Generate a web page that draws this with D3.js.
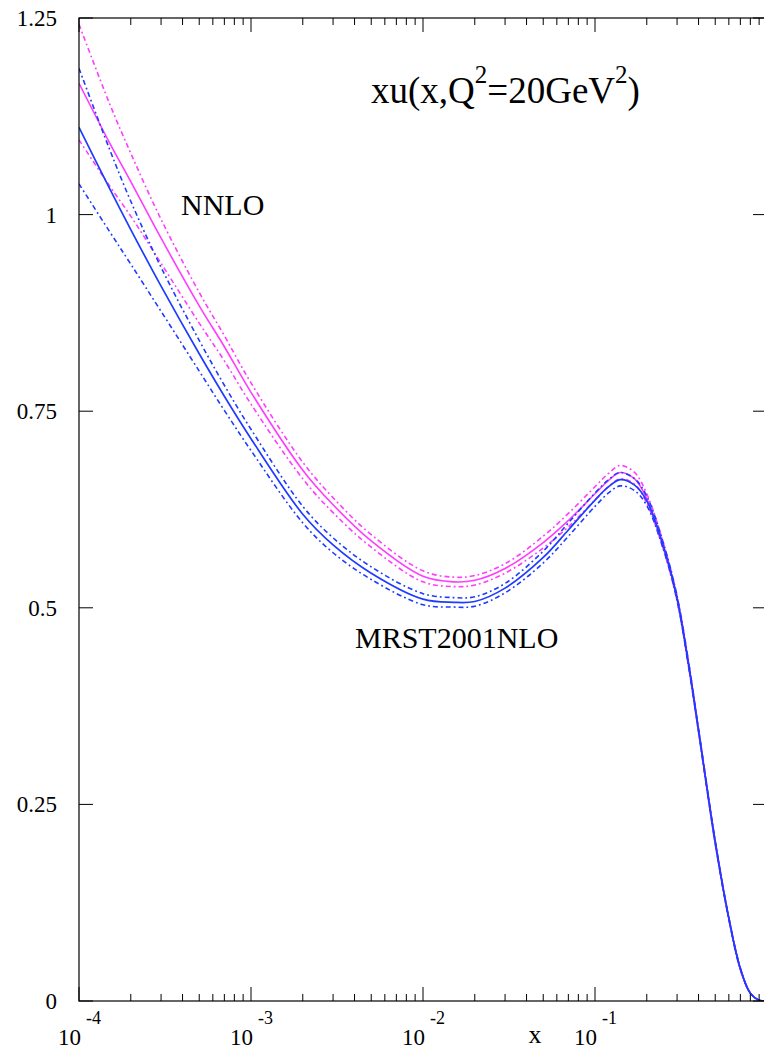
<!DOCTYPE html>
<html>
<head>
<meta charset="utf-8">
<script src="https://cdn.jsdelivr.net/npm/d3@7"></script>
<style>
  html, body { margin: 0; padding: 0; background: #fff; }
  svg { display: block; }
  text { font-family: "Liberation Serif", "Times New Roman", serif; fill: #000; }
</style>
</head>
<body>
<svg id="chart" width="764" height="1050"></svg>
<script>
// x grid shared by all curves
const xGrid = [1e-4, 1.5e-4, 2e-4, 3e-4, 5e-4, 7e-4, 1e-3, 2e-3, 3e-3, 5e-3,
  1e-2, 1.5e-2, 2e-2, 3e-2, 5e-2, 7e-2, 0.1, 0.12, 0.14, 0.17, 0.2, 0.25,
  0.3, 0.35, 0.4, 0.5, 0.6, 0.7, 0.8, 0.9, 1.0];

// NNLO: central value and error-band edges
const nnloCentral = [1.167, 1.092, 1.042, 0.970, 0.884, 0.832, 0.774, 0.675, 0.631, 0.585,
  0.540, 0.533, 0.535, 0.550, 0.583, 0.611, 0.645, 0.662, 0.672, 0.664, 0.639, 0.578,
  0.512, 0.428, 0.344, 0.202, 0.105, 0.041, 0.010, 0.001, 0.0];
const nnloUpper = [1.242, 1.142, 1.078, 0.994, 0.901, 0.846, 0.786, 0.685, 0.640, 0.593,
  0.547, 0.539, 0.541, 0.556, 0.591, 0.620, 0.654, 0.671, 0.681, 0.672, 0.645, 0.582,
  0.515, 0.431, 0.346, 0.204, 0.106, 0.042, 0.010, 0.001, 0.0];
const nnloLower = [1.095, 1.037, 0.998, 0.938, 0.862, 0.814, 0.759, 0.664, 0.621, 0.577,
  0.533, 0.527, 0.529, 0.544, 0.576, 0.603, 0.637, 0.654, 0.664, 0.657, 0.633, 0.574,
  0.509, 0.425, 0.342, 0.200, 0.104, 0.040, 0.010, 0.001, 0.0];

// MRST2001 NLO: central value and error-band edges
const nloCentral = [1.111, 1.034, 0.981, 0.909, 0.823, 0.769, 0.715, 0.619, 0.580, 0.544,
  0.511, 0.507, 0.508, 0.525, 0.564, 0.599, 0.637, 0.654, 0.663, 0.656, 0.636, 0.578,
  0.512, 0.428, 0.344, 0.202, 0.105, 0.041, 0.010, 0.001, 0.0];
const nloUpper = [1.186, 1.084, 1.017, 0.933, 0.840, 0.783, 0.727, 0.629, 0.589, 0.552,
  0.518, 0.513, 0.514, 0.531, 0.572, 0.608, 0.646, 0.663, 0.672, 0.664, 0.642, 0.582,
  0.515, 0.431, 0.346, 0.204, 0.106, 0.042, 0.010, 0.001, 0.0];
const nloLower = [1.039, 0.979, 0.937, 0.877, 0.801, 0.751, 0.700, 0.608, 0.570, 0.536,
  0.504, 0.501, 0.502, 0.519, 0.557, 0.591, 0.629, 0.646, 0.655, 0.649, 0.630, 0.574,
  0.509, 0.425, 0.342, 0.200, 0.104, 0.040, 0.010, 0.001, 0.0];

// axis ticks and labels
const yTickValues = [0, 0.25, 0.5, 0.75, 1, 1.25];
const yTickLabels = ["0", "0.25", "0.5", "0.75", "1", "1.25"];
const xDecades = [1e-4, 1e-3, 1e-2, 1e-1];
const xDecadeExponents = ["-4", "-3", "-2", "-1"];

const MAGENTA = "#ff3cff";
const BLUE = "#1e3cff";

const svg = d3.select("#chart");
const plotLeft = 79, plotRight = 767, plotTop = 18, plotBottom = 1001;

const x = d3.scaleLog().domain([1e-4, 1]).range([plotLeft, plotRight]);
const y = d3.scaleLinear().domain([0, 1.25]).range([plotBottom, plotTop]);

svg.append("defs").append("clipPath").attr("id", "plotClip")
  .append("rect").attr("x", plotLeft).attr("y", plotTop)
  .attr("width", plotRight - plotLeft).attr("height", plotBottom - plotTop);

// curves
const line = d3.line()
  .x((d, i) => x(xGrid[i]))
  .y(d => y(d))
  .curve(d3.curveCatmullRom.alpha(0.5));

const DASHDOT = "5,3,1.8,3";
const curves = [
  { values: nnloUpper, color: MAGENTA, dash: DASHDOT, w: 1.6 },
  { values: nnloLower, color: MAGENTA, dash: DASHDOT, w: 1.6 },
  { values: nnloCentral, color: MAGENTA, dash: null, w: 1.6 },
  { values: nloUpper, color: BLUE, dash: DASHDOT, w: 1.6 },
  { values: nloLower, color: BLUE, dash: DASHDOT, w: 1.6 },
  { values: nloCentral, color: BLUE, dash: null, w: 1.7 }
];

const plot = svg.append("g").attr("clip-path", "url(#plotClip)");
curves.forEach(c => {
  plot.append("path")
    .attr("d", line(c.values))
    .attr("fill", "none")
    .attr("stroke", c.color)
    .attr("stroke-width", c.w)
    .attr("stroke-dasharray", c.dash);
});

// frame
svg.append("rect").attr("x", plotLeft).attr("y", plotTop)
  .attr("width", plotRight - plotLeft).attr("height", plotBottom - plotTop)
  .attr("fill", "none").attr("stroke", "#000").attr("stroke-width", 1.2);

// x ticks (bottom and top, inward)
const minorTicks = [];
xDecades.forEach(d => { for (let k = 2; k <= 9; k++) minorTicks.push(d * k); });
const tickG = svg.append("g").attr("stroke", "#000").attr("stroke-width", 1);
xDecades.concat([1]).forEach(v => {
  tickG.append("line").attr("x1", x(v)).attr("x2", x(v)).attr("y1", plotBottom).attr("y2", plotBottom - 14);
  tickG.append("line").attr("x1", x(v)).attr("x2", x(v)).attr("y1", plotTop).attr("y2", plotTop + 14);
});
minorTicks.forEach(v => {
  tickG.append("line").attr("x1", x(v)).attr("x2", x(v)).attr("y1", plotBottom).attr("y2", plotBottom - 7);
  tickG.append("line").attr("x1", x(v)).attr("x2", x(v)).attr("y1", plotTop).attr("y2", plotTop + 7);
});
// y ticks (left and right, inward)
yTickValues.forEach(v => {
  tickG.append("line").attr("x1", plotLeft).attr("x2", plotLeft + 14).attr("y1", y(v)).attr("y2", y(v));
  tickG.append("line").attr("x1", plotRight).attr("x2", plotRight - 14).attr("y1", y(v)).attr("y2", y(v));
});

// y tick labels
svg.append("g").selectAll("text").data(yTickValues).join("text")
  .attr("x", 57).attr("y", d => y(d) + 8)
  .attr("text-anchor", "end")
  .attr("font-size", 23)
  .text((d, i) => yTickLabels[i]);

// x tick labels: 10 with exponent
const xl = svg.append("g");
xDecades.forEach((v, i) => {
  xl.append("text").attr("x", x(v) + 2).attr("y", 1045)
    .attr("text-anchor", "end").attr("font-size", 23).text("10");
  xl.append("text").attr("x", x(v) + 7).attr("y", 1024)
    .attr("font-size", 18).text(xDecadeExponents[i]);
});

// axis title
svg.append("text").attr("x", 535).attr("y", 1043).attr("text-anchor", "middle")
  .attr("font-size", 26).text("x");

// plot title
const title = svg.append("text").attr("x", 371).attr("y", 103).attr("font-size", 37);
title.append("tspan").text("xu(x,Q");
title.append("tspan").attr("dy", -20).attr("font-size", 25).text("2");
title.append("tspan").attr("dy", 20).text("=20GeV");
title.append("tspan").attr("dy", -20).attr("font-size", 25).text("2");
title.append("tspan").attr("dy", 20).text(")");

// curve labels
svg.append("text").attr("x", 181).attr("y", 215).attr("font-size", 30).text("NNLO");
svg.append("text").attr("x", 355).attr("y", 648).attr("font-size", 30).text("MRST2001NLO");
</script>
</body>
</html>
